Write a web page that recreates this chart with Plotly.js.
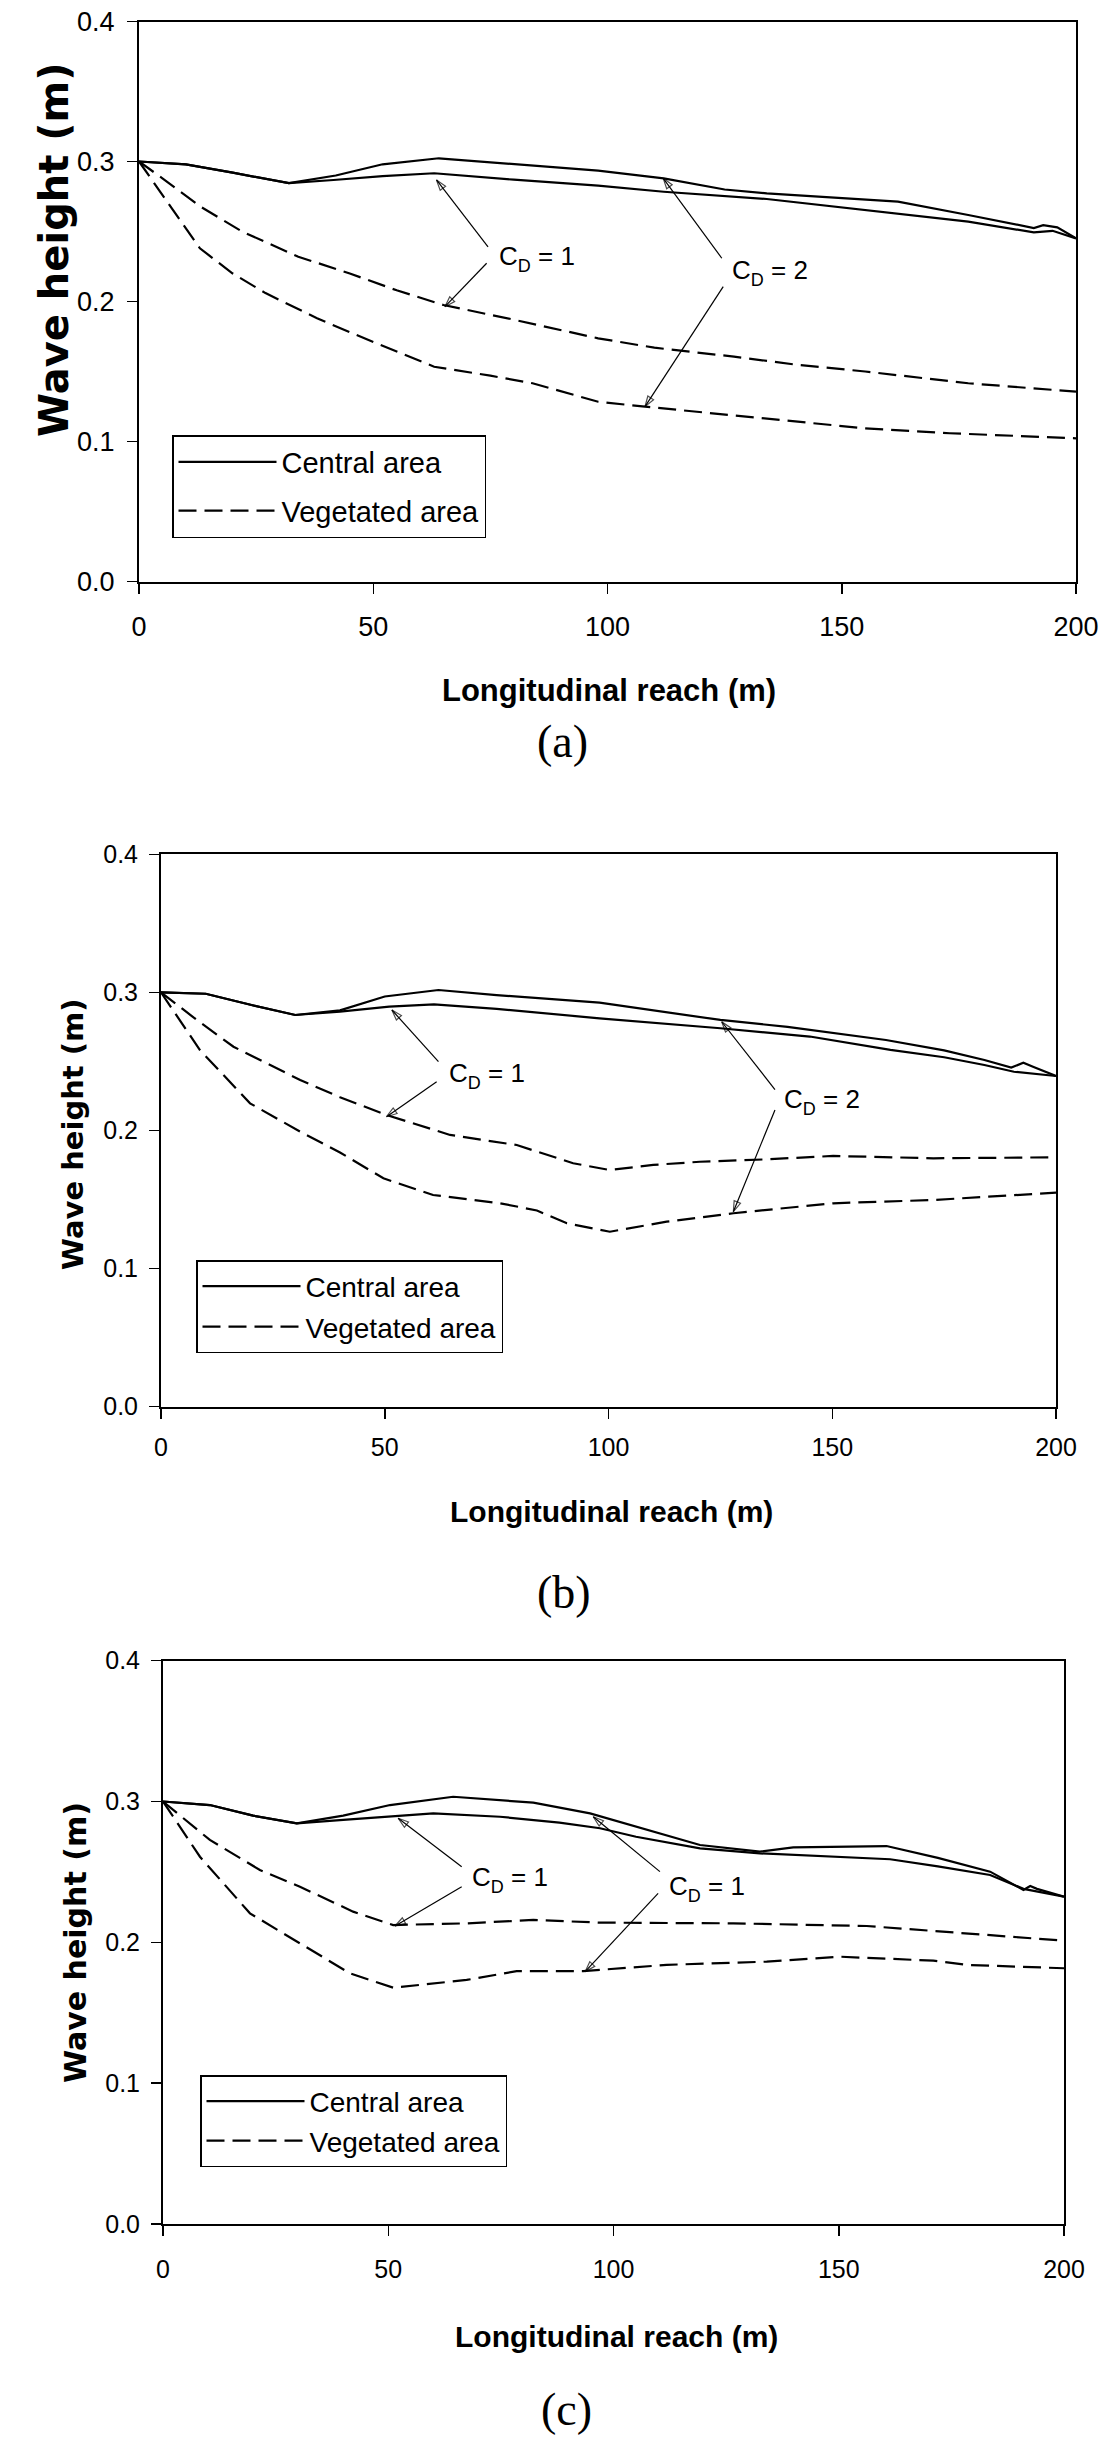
<!DOCTYPE html>
<html><head><meta charset="utf-8">
<script src="https://cdn.plot.ly/plotly-3.0.1.min.js"></script>
<style>html,body{margin:0;padding:0;background:#fff}#chart{width:1119px;height:2441px}</style>
</head><body><div id="chart"></div>
<script>
// ---------- Panel (a) ----------
var aCentralCd1X = [0, 10, 20, 32, 41.5, 52, 63, 80, 98, 112, 134, 162, 177, 191, 195, 200];
var aCentralCd1Y = [0.300, 0.298, 0.292, 0.2845, 0.2868, 0.2896, 0.2916, 0.287, 0.2827, 0.2784, 0.2732, 0.263, 0.257, 0.2494, 0.2505, 0.2451];
var aCentralCd2X = [0, 10, 20, 32, 42, 52, 64, 80, 98, 112, 125, 134, 150, 162, 177, 188, 191, 193, 196, 200];
var aCentralCd2Y = [0.300, 0.298, 0.292, 0.2845, 0.290, 0.298, 0.3023, 0.298, 0.2935, 0.288, 0.280, 0.2773, 0.274, 0.2713, 0.2618, 0.2545, 0.2525, 0.2545, 0.2530, 0.2451];
var aVegCd1X = [0, 5, 13, 22, 34, 45, 55, 65, 80, 98, 110, 127, 140, 155, 177, 200];
var aVegCd1Y = [0.300, 0.288, 0.268, 0.250, 0.232, 0.220, 0.208, 0.1975, 0.187, 0.1737, 0.167, 0.1606, 0.155, 0.150, 0.1416, 0.1356];
var aVegCd2X = [0, 8, 13, 20, 27, 38, 49, 63, 75, 84, 98, 108, 120, 134, 155, 173, 200];
var aVegCd2Y = [0.300, 0.262, 0.238, 0.220, 0.206, 0.188, 0.1725, 0.1534, 0.147, 0.1416, 0.1284, 0.1249, 0.121, 0.1166, 0.1094, 0.1059, 0.1023];

// ---------- Panel (b) ----------
var bCentralCd1X = [0, 10, 20, 30, 40, 51, 61, 75, 98, 125, 145, 163, 175, 184, 190.6, 200];
var bCentralCd1Y = [0.300, 0.299, 0.291, 0.2836, 0.286, 0.2896, 0.2913, 0.288, 0.2812, 0.274, 0.268, 0.2583, 0.253, 0.2474, 0.2425, 0.2394];
var bCentralCd2X = [0, 10, 20, 30, 40, 50, 62, 75, 98, 125, 140, 162, 175, 184, 190, 192.7, 195, 200];
var bCentralCd2Y = [0.300, 0.299, 0.291, 0.2836, 0.287, 0.297, 0.3017, 0.298, 0.2925, 0.280, 0.275, 0.2655, 0.258, 0.251, 0.2455, 0.249, 0.246, 0.2394];
var bVegCd1X = [0, 8, 16.2, 31.1, 40, 50.4, 64.6, 79.5, 92.1, 100.3, 110, 120.4, 135, 150.2, 172.6, 200];
var bVegCd1Y = [0.300, 0.280, 0.2606, 0.2365, 0.224, 0.2112, 0.1967, 0.1894, 0.1762, 0.1713, 0.175, 0.1773, 0.179, 0.1815, 0.1798, 0.1805];
var bVegCd2X = [0, 8.7, 19.9, 31.1, 40, 49.7, 60.8, 75.8, 84, 90.7, 100.3, 113, 127.9, 150.2, 172.6, 200];
var bVegCd2Y = [0.300, 0.2582, 0.2196, 0.1991, 0.184, 0.1653, 0.1532, 0.1472, 0.142, 0.1327, 0.1266, 0.1339, 0.140, 0.1472, 0.1496, 0.1549];

// ---------- Panel (c) ----------
var cCentralCd1X = [0, 10.4, 20, 29.7, 40, 50.4, 60, 74.8, 88, 97, 105, 119.2, 132.5, 161.4, 172, 183.6, 191, 200];
var cCentralCd1Y = [0.300, 0.2975, 0.290, 0.2845, 0.287, 0.2892, 0.2916, 0.2892, 0.285, 0.281, 0.275, 0.2667, 0.2632, 0.259, 0.254, 0.2478, 0.238, 0.2324];
var cCentralCd2X = [0, 10.4, 20, 29.7, 40, 50.4, 64.4, 82.2, 94.8, 105, 119.2, 132.5, 139.9, 160.6, 172, 183.6, 191, 192.5, 194, 200];
var cCentralCd2Y = [0.300, 0.2975, 0.290, 0.2845, 0.290, 0.2975, 0.3034, 0.2992, 0.2916, 0.282, 0.2691, 0.2644, 0.2675, 0.2684, 0.260, 0.2502, 0.2372, 0.2400, 0.2380, 0.2324];
var cVegCd1X = [0, 10.4, 21.5, 30.4, 42.2, 51.1, 67.4, 82.2, 97, 126.6, 156.2, 178.4, 200];
var cVegCd1Y = [0.300, 0.2727, 0.2514, 0.2395, 0.2218, 0.2123, 0.2135, 0.2159, 0.214, 0.2135, 0.2116, 0.2064, 0.2012];
var cVegCd2X = [0, 8.2, 19.3, 30.4, 41.5, 51.1, 67.4, 78.5, 93.3, 111.8, 134, 150.3, 171, 178.4, 200];
var cVegCd2Y = [0.300, 0.2608, 0.2206, 0.1993, 0.178, 0.1678, 0.1733, 0.1796, 0.1796, 0.184, 0.1863, 0.1898, 0.187, 0.184, 0.1816];

var seriesNames = ['Central area', 'Vegetated area'];
var xTicks = [0, 50, 100, 150, 200];
var yTicks = [0, 0.1, 0.2, 0.3, 0.4];
var yTickText = ['0.0', '0.1', '0.2', '0.3', '0.4'];
var panelCaptions = ['(a)', '(b)', '(c)'];
var xTitle = 'Longitudinal reach (m)';
var yTitle = 'Wave height (m)';
var cdValues = ['1', '2', '1', '2', '1', '1'];

// label x, label y, then two arrows as [tail x, tail y, head x, head y]
var aLabels = [
  [76.4, 0.231, [74.5, 0.2391, 63.5, 0.2868], [74.2, 0.2273, 65.3, 0.1963]],
  [126.1, 0.2204, [124.4, 0.2309, 111.9, 0.288], [124.7, 0.2106, 108, 0.1249]]
];
var bLabels = [
  [63.8, 0.2401, [62, 0.2498, 51.6, 0.2872], [61.6, 0.2353, 50.4, 0.2099]],
  [138.7, 0.2208, [137.2, 0.2296, 125.3, 0.2787], [137.2, 0.2148, 127.9, 0.1411]]
];
var cLabels = [
  [68.1, 0.2443, [66.3, 0.2537, 52.2, 0.2881], [66.3, 0.2395, 51.5, 0.2116]],
  [111.8, 0.2384, [110.3, 0.2502, 95.5, 0.2892], [109.9, 0.2348, 93.7, 0.1792]]
];

var SANS = 'Liberation Sans, Arial, sans-serif';
var traces = [];
var annotations = [];
var labelCount = 0;

function ids(n) {
  return {xa: n === 1 ? 'x' : 'x' + n, ya: n === 1 ? 'y' : 'y' + n, lg: n === 1 ? 'legend' : 'legend' + n};
}
function addPanel(n, cd1x, cd1y, cd2x, cd2y, v1x, v1y, v2x, v2y) {
  var a = ids(n);
  var solid = {color: '#000', width: 2.2};
  var dashed = {color: '#000', width: 2.2, dash: '18px,8px'};
  var g1 = 'central' + n, g2 = 'veg' + n;
  traces.push({x: cd1x, y: cd1y, xaxis: a.xa, yaxis: a.ya, mode: 'lines', line: solid, name: seriesNames[0], legend: a.lg, legendgroup: g1, showlegend: true, hoverinfo: 'skip'});
  traces.push({x: cd2x, y: cd2y, xaxis: a.xa, yaxis: a.ya, mode: 'lines', line: solid, name: seriesNames[0], legend: a.lg, legendgroup: g1, showlegend: false, hoverinfo: 'skip'});
  traces.push({x: v1x, y: v1y, xaxis: a.xa, yaxis: a.ya, mode: 'lines', line: dashed, name: seriesNames[1], legend: a.lg, legendgroup: g2, showlegend: true, hoverinfo: 'skip'});
  traces.push({x: v2x, y: v2y, xaxis: a.xa, yaxis: a.ya, mode: 'lines', line: dashed, name: seriesNames[1], legend: a.lg, legendgroup: g2, showlegend: false, hoverinfo: 'skip'});
}
function addLabels(n, labels) {
  var a = ids(n);
  labels.forEach(function (L) {
    var txt = 'C<span style="font-size:18px;baseline-shift:-7px">D</span> = ' + cdValues[labelCount++];
    annotations.push({xref: a.xa, yref: a.ya, x: L[0], y: L[1], text: txt, showarrow: false, xanchor: 'left', yanchor: 'middle',
      font: {family: SANS, size: 26, color: '#000'}});
    [L[2], L[3]].forEach(function (A) {
      traces.push({x: [A[0], A[2]], y: [A[1], A[3]], xaxis: a.xa, yaxis: a.ya, mode: 'lines+markers',
        line: {color: '#000', width: 1.2},
        marker: {symbol: ['line-ew', 'arrow-open'], size: [0, 11], angleref: 'previous', color: '#000', line: {color: '#000', width: 1.2}},
        showlegend: false, hoverinfo: 'skip'});
    });
  });
}
addPanel(1, aCentralCd1X, aCentralCd1Y, aCentralCd2X, aCentralCd2Y, aVegCd1X, aVegCd1Y, aVegCd2X, aVegCd2Y);
addPanel(2, bCentralCd1X, bCentralCd1Y, bCentralCd2X, bCentralCd2Y, bVegCd1X, bVegCd1Y, bVegCd2X, bVegCd2Y);
addPanel(3, cCentralCd1X, cCentralCd1Y, cCentralCd2X, cCentralCd2Y, cVegCd1X, cVegCd1Y, cVegCd2X, cVegCd2Y);
addLabels(1, aLabels);
addLabels(2, bLabels);
addLabels(3, cLabels);

var W = 1119, H = 2441;
function px(v) { return v / W; }
function py(v) { return 1 - v / H; }

function xAxis(dom, fs, standoff, anchor) {
  return {domain: dom, anchor: anchor, range: [0, 200], tickvals: xTicks, ticktext: xTicks.map(String),
    showline: true, mirror: true, linecolor: '#000', linewidth: 2, ticks: 'outside', ticklen: 10, tickwidth: 1.5,
    tickcolor: '#000', showgrid: false, zeroline: false, tickfont: {family: SANS, size: fs, color: '#000'},
    ticklabelstandoff: standoff, fixedrange: true};
}
function yAxis(dom, fs, standoff, anchor) {
  return {domain: dom, anchor: anchor, range: [0, 0.4], tickvals: yTicks, ticktext: yTickText,
    showline: true, mirror: true, linecolor: '#000', linewidth: 2, ticks: 'outside', ticklen: 10, tickwidth: 1.5,
    tickcolor: '#000', showgrid: false, zeroline: false, tickfont: {family: SANS, size: fs, color: '#000'},
    ticklabelstandoff: standoff, fixedrange: true};
}
function legendAt(x, y, gap, fs) {
  return {x: px(x), y: py(y), xanchor: 'left', yanchor: 'top', bgcolor: '#fff', bordercolor: '#000', borderwidth: 1.5,
    font: {family: SANS, size: fs, color: '#000'}, itemwidth: 98, traceorder: 'grouped', tracegroupgap: gap};
}

function textAt(x, y, text, font, angle) {
  annotations.push({xref: 'paper', yref: 'paper', x: px(x), y: py(y), text: text, showarrow: false,
    xanchor: 'center', yanchor: 'middle', font: font, textangle: angle || 0});
}
var titleBold = {family: SANS, color: '#000', weight: 'bold'};
textAt(609, 691, xTitle, Object.assign({size: 31}, titleBold));
textAt(611, 1511, xTitle, Object.assign({size: 30}, titleBold));
textAt(616, 2336, xTitle, Object.assign({size: 30}, titleBold));
var yFont = {family: 'DejaVu Sans, sans-serif', color: '#000', weight: 'bold'};
textAt(54, 250, yTitle, Object.assign({size: 40}, yFont), -90);
textAt(73, 1134, yTitle, Object.assign({size: 29}, yFont), -90);
textAt(75, 1943, yTitle, Object.assign({size: 30}, yFont), -90);
var capFont = {family: 'Liberation Serif, Times New Roman, serif', size: 46, color: '#000'};
textAt(562, 741, panelCaptions[0], capFont);
textAt(564, 1592, panelCaptions[1], capFont);
textAt(566, 2409, panelCaptions[2], capFont);

var layout = {
  width: W, height: H, margin: {l: 0, r: 0, t: 0, b: 0}, paper_bgcolor: '#fff', plot_bgcolor: '#fff',
  showlegend: true,
  xaxis: xAxis([px(139), px(1076)], 27, 10, 'y'),
  yaxis: yAxis([py(581.5), py(21.5)], 27, 7, 'x'),
  xaxis2: xAxis([px(161), px(1056)], 25, 7, 'y2'),
  yaxis2: yAxis([py(1406.5), py(854.3)], 25, 6, 'x2'),
  xaxis3: xAxis([px(163), px(1064)], 25, 12, 'y3'),
  yaxis3: yAxis([py(2224), py(1660.7)], 25, 6, 'x3'),
  legend: legendAt(172, 435, 8, 29),
  legend2: legendAt(196, 1260, 1, 28),
  legend3: legendAt(200, 2075, 0, 28),
  annotations: annotations
};
Plotly.newPlot('chart', traces, layout, {staticPlot: true, displayModeBar: false});
</script></body></html>
